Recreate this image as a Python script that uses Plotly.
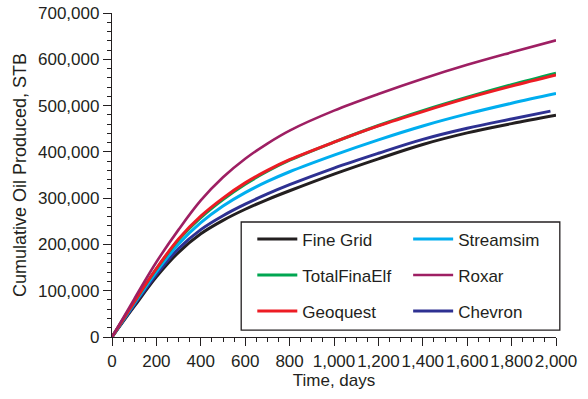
import plotly.graph_objects as go

days = [0, 100, 200, 300, 400, 500, 600, 700, 800, 1000, 1200, 1400, 1600, 1800, 2000]
chevron_days = [0, 100, 200, 300, 400, 500, 600, 700, 800, 1000, 1200, 1400, 1600, 1800, 1975]

fine_grid = [0, 66e3, 130e3, 183e3, 223e3, 252e3, 276e3, 297e3, 316e3, 352e3, 385e3, 416e3, 441e3, 461e3, 479e3]
streamsim = [0, 72e3, 141e3, 201e3, 247e3, 283e3, 312e3, 336e3, 357e3, 393e3, 426e3, 456e3, 482e3, 505e3, 526e3]
totalfinaelf = [0, 75e3, 147e3, 210e3, 258e3, 297e3, 330e3, 358e3, 382e3, 421e3, 457e3, 489e3, 518e3, 545e3, 570e3]
roxar = [0, 82e3, 162e3, 232e3, 295e3, 345e3, 385e3, 418e3, 446e3, 489e3, 525e3, 558e3, 588e3, 615e3, 641e3]
geoquest = [0, 76e3, 148e3, 212e3, 261e3, 300e3, 333e3, 360e3, 383e3, 421e3, 456e3, 487e3, 516e3, 542e3, 566e3]
chevron = [0, 69e3, 135e3, 191e3, 232e3, 262e3, 287e3, 309e3, 329e3, 365e3, 397e3, 427e3, 451e3, 471e3, 488e3]

x_ticks = [0, 200, 400, 600, 800, 1000, 1200, 1400, 1600, 1800, 2000]
y_ticks = [0, 100000, 200000, 300000, 400000, 500000, 600000, 700000]

series = [
    # name, x, y, color, width, legend, rank
    ("Fine Grid", days, fine_grid, "#231f20", 3, "legend", 1),
    ("TotalFinaElf", days, totalfinaelf, "#00a651", 3, "legend", 2),
    ("Geoquest", days, geoquest, "#ed1c24", 3, "legend", 3),
    ("Streamsim", days, streamsim, "#00aeef", 3, "legend2", 1),
    ("Roxar", days, roxar, "#9e1f63", 2.6, "legend2", 2),
    ("Chevron", chevron_days, chevron, "#2e3192", 3, "legend2", 3),
]

draw_order = ["Fine Grid", "Chevron", "Streamsim", "TotalFinaElf", "Geoquest", "Roxar"]

fig = go.Figure()
lookup = {s[0]: s for s in series}
for nm in draw_order:
    name, xs, ys, color, w, leg, rank = lookup[nm]
    fig.add_trace(go.Scatter(
        x=xs, y=ys, name=name, mode="lines",
        line=dict(color=color, width=w, shape="spline", smoothing=1.0),
        legend=leg, legendgroup=name, legendrank=rank,
    ))

font_family = "Liberation Sans, Arial, sans-serif"
ink = "#231f20"
leg_common = dict(xanchor="left", yanchor="top", orientation="v", tracegroupgap=11,
                  bgcolor="rgba(0,0,0,0)", font=dict(size=17), itemwidth=40)
fig.update_layout(
    width=588, height=399,
    margin=dict(l=112, r=32, t=13, b=62, autoexpand=False),
    plot_bgcolor="white", paper_bgcolor="white",
    font=dict(family=font_family, size=17, color=ink),
    legend=dict(x=0.316, y=0.357, **leg_common),
    legend2=dict(x=0.667, y=0.357, **leg_common),
    shapes=[dict(type="rect", xref="paper", yref="paper", x0=0.291, x1=1.0086, y0=0.021, y1=0.355,
                 line=dict(color=ink, width=1.3), fillcolor="rgba(0,0,0,0)")],
)
fig.update_xaxes(
    range=[0, 2000], tickvals=x_ticks, tickformat=",d", tickangle=0, showgrid=False, zeroline=False,
    showline=True, linecolor=ink, linewidth=1.3, ticks="outside", ticklen=8, tickwidth=1.3,
    tickcolor=ink, minor=dict(dtick=50, ticks="outside", ticklen=4, tickcolor=ink, tickwidth=1),
    title=dict(text="Time, days", standoff=4, font=dict(size=17)), tickfont=dict(size=17),
    automargin=False, ticklabeloverflow="allow",
)
fig.update_yaxes(
    range=[0, 700000], tickvals=y_ticks, tickformat=",d", showgrid=False, zeroline=False,
    showline=True, linecolor=ink, linewidth=1.3, ticks="outside", ticklen=8, tickwidth=1.3,
    tickcolor=ink, minor=dict(dtick=20000, ticks="outside", ticklen=4, tickcolor=ink, tickwidth=1),
    title=dict(text="Cumulative Oil Produced, STB", standoff=6, font=dict(size=18)), tickfont=dict(size=17),
    automargin=False, ticklabeloverflow="allow",
)

fig.write_html("out.html", config={"displayModeBar": False},
               post_script="document.body.style.margin='0px';")
